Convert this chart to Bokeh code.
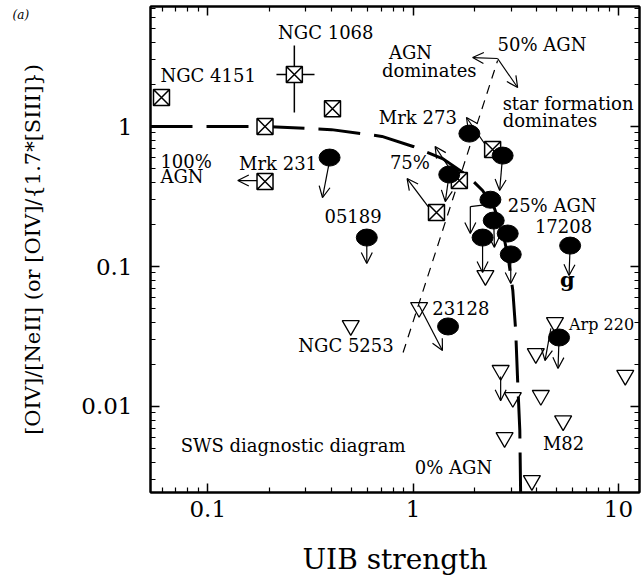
from bokeh.plotting import figure
from bokeh.models import (ColumnDataSource, LogAxis, FixedTicker, CustomJSTickFormatter,
                          Arrow, OpenHead, LabelSet, Label, Range1d)
from bokeh.embed import file_html
from bokeh.resources import INLINE
from bokeh.core.properties import value

# ---- data ----
# AGN-type sources (crossed squares)
sq_x = [0.0595, 0.264, 0.405, 0.19, 0.19, 2.44, 1.68, 1.30]
sq_y = [1.61, 2.35, 1.34, 1.0, 0.405, 0.685, 0.411, 0.243]

# ULIRGs (filled circles)
ci_x = [0.392, 0.595, 1.88, 2.73, 1.50, 2.38, 2.47, 2.18, 2.89, 2.99, 5.82, 1.48, 5.14]
ci_y = [0.60, 0.161, 0.89, 0.62, 0.454, 0.30, 0.213, 0.161, 0.172, 0.122, 0.141, 0.0373, 0.0311]

# starbursts (open triangles)
tr_x = [2.25, 0.497, 1.07, 4.91, 3.96, 10.8, 2.67, 3.06, 4.19, 5.38, 2.79, 3.79]
tr_y = [0.0862, 0.0379, 0.051, 0.0398, 0.0239, 0.0167, 0.0181, 0.0116, 0.0120, 0.0079, 0.0060, 0.00296]

# NGC 1068 error bars
err_x = [0.264]
err_y = [2.35]
err_xlo = [0.216]
err_xhi = [0.331]
err_ylo = [1.26]
err_yhi = [3.79]

# AGN / starburst mixing curve
mix_x = [0.0526, 0.19, 0.40, 0.705, 1.0, 1.39, 1.84, 2.18, 2.49, 2.73, 2.92, 3.06, 3.16, 3.23, 3.31, 3.34]
mix_y = [1.0, 1.0, 0.95, 0.85, 0.72, 0.59, 0.447, 0.349, 0.26, 0.181, 0.110, 0.0674, 0.0349, 0.0153, 0.00674, 0.00243]

# 50% AGN line
half_x = [0.894, 2.58]
half_y = [0.0243, 2.96]

# arrows (upper limits and annotations)
ar_x0 = [0.392, 0.174, 0.595, 2.28, 2.73, 1.553, 1.50, 1.184, 2.58, 2.58, 1.90, 2.18, 2.47, 2.99, 5.82, 1.07, 5.14, 4.69, 2.67]
ar_y0 = [0.571, 0.411, 0.161, 0.72, 0.62, 0.469, 0.46, 0.268, 3.06, 3.06, 0.268, 0.161, 0.213, 0.122, 0.141, 0.0527, 0.0311, 0.0361, 0.0164]
ar_x1 = [0.362, 0.140, 0.595, 1.82, 2.64, 1.28, 1.435, 0.935, 1.95, 3.23, 1.90, 2.18, 2.49, 2.99, 5.75, 1.39, 5.08, 4.39, 2.67]
ar_y1 = [0.311, 0.411, 0.105, 1.16, 0.349, 0.72, 0.291, 0.425, 3.11, 1.90, 0.172, 0.0906, 0.137, 0.0756, 0.0862, 0.0251, 0.0187, 0.0213, 0.0110]

# connector line
con_x0 = [2.28]
con_y0 = [0.277]
con_x1 = [1.90]
con_y1 = [0.268]

# text labels
lab_text = ["NGC 1068", "NGC 4151", "Mrk 231", "100%", "AGN", "Mrk 273", "75%", "05189",
            "25% AGN", "17208", "star formation", "dominates", "AGN", "dominates", "50% AGN",
            "23128", "NGC 5253", "M82", "0% AGN", "SWS diagnostic diagram"]
lab_x = [0.220, 0.0588, 0.142, 0.0588, 0.0588, 0.681, 0.771, 0.370,
         2.89, 3.92, 2.73, 2.73, 0.763, 0.705, 2.58,
         1.24, 0.276, 4.29, 1.02, 0.0738]
lab_y = [4.69, 2.31, 0.544, 0.562, 0.44, 1.16, 0.553, 0.231,
         0.273, 0.196, 1.46, 1.10, 3.38, 2.51, 3.85,
         0.0509, 0.0273, 0.00544, 0.00367, 0.00527]

x_major = [0.1, 1, 10]
y_major = [0.01, 0.1, 1]
x_minor = [m * 10.0 ** e for e in (-2, -1, 0, 1) for m in range(2, 10)]
y_minor = [m * 10.0 ** e for e in (-3, -2, -1, 0) for m in range(2, 10)]

FONT = "DejaVu Serif"

p = figure(width=644, height=583, x_axis_type="log", y_axis_type="log",
           x_range=Range1d(0.0526, 12.67), y_range=Range1d(0.00243, 7.2),
           output_backend="svg", toolbar_location=None,
           min_border_left=150, min_border_right=5, min_border_top=6, min_border_bottom=91)
p.grid.visible = False
p.outline_line_color = "black"
p.outline_line_width = 2
p.background_fill_color = "white"
p.border_fill_color = "white"

xt = FixedTicker(ticks=x_major, minor_ticks=x_minor)
yt = FixedTicker(ticks=y_major, minor_ticks=y_minor)
fmt = CustomJSTickFormatter(code="return String(parseFloat(tick.toPrecision(6)))")

for ax, tk in ((p.xaxis[0], xt), (p.yaxis[0], yt)):
    ax.ticker = tk
    ax.formatter = fmt
    ax.major_tick_in = 9
    ax.major_tick_out = 0
    ax.minor_tick_in = 5
    ax.minor_tick_out = 0
    ax.axis_line_width = 2
    ax.major_tick_line_width = 1.5
    ax.minor_tick_line_width = 1.2
    ax.major_label_text_font = FONT
    ax.major_label_text_font_size = "23px"
    ax.major_label_text_color = "black"
    ax.axis_label_text_font = FONT
    ax.axis_label_text_font_style = "normal"
    ax.axis_label_text_color = "black"

p.xaxis.axis_label = "UIB strength"
p.xaxis.axis_label_text_font_size = "28px"
p.xaxis.major_label_standoff = 8
p.xaxis.axis_label_standoff = 23
p.yaxis.axis_label = "[OIV]/[NeII] (or [OIV]/{1.7*[SIII]})"
p.yaxis.axis_label_text_font_size = "21px"
p.yaxis.major_label_standoff = 18
p.yaxis.axis_label_standoff = 33

blank = CustomJSTickFormatter(code="return ''")
for loc, tk in (("above", xt), ("right", yt)):
    ax = LogAxis(ticker=tk, formatter=blank, major_tick_in=9, major_tick_out=0,
                 minor_tick_in=5, minor_tick_out=0, axis_line_width=2,
                 major_tick_line_width=1.5, minor_tick_line_width=1.2,
                 major_label_standoff=0, major_label_text_font_size="0px")
    p.add_layout(ax, loc)

# arrows (under markers)
arr_src = ColumnDataSource(dict(x0=ar_x0, y0=ar_y0, x1=ar_x1, y1=ar_y1))
p.add_layout(Arrow(end=OpenHead(size=11, line_width=1.2, line_color="black"),
                   x_start="x0", y_start="y0", x_end="x1", y_end="y1",
                   source=arr_src, line_width=1.2, line_color="black", level="underlay"))
p.segment(x0=con_x0, y0=con_y0, x1=con_x1, y1=con_y1, line_color="black", line_width=1.2)

# lines
p.line(mix_x, mix_y, line_width=3, line_dash="42 14", line_color="black")
p.line(half_x, half_y, line_width=1.2, line_dash="9 7", line_color="black")

# error bars
p.segment(x0=err_xlo, y0=err_y, x1=err_xhi, y1=err_y, line_color="black", line_width=1.5)
p.segment(x0=err_x, y0=err_ylo, x1=err_x, y1=err_yhi, line_color="black", line_width=1.5)

# markers
p.scatter(tr_x, tr_y, marker="inverted_triangle", size=17, fill_color=None,
          line_color="black", line_width=1.3)
p.scatter(sq_x, sq_y, marker="square_x", size=16, fill_color="white",
          line_color="black", line_width=1.5)
p.ellipse(x=ci_x, y=ci_y, width=21, height=17, width_units="screen", height_units="screen",
          fill_color="black", line_color="black")

# text
lab_src = ColumnDataSource(dict(x=lab_x, y=lab_y, t=lab_text))
p.add_layout(LabelSet(x="x", y="y", text="t", source=lab_src,
                      text_font=value(FONT), text_font_size=value("18px"),
                      text_color="black", text_align="left", text_baseline="middle"))
p.add_layout(Label(x=5.75, y=0.0385, text="Arp 220", text_font=FONT, text_font_size="16px",
                   text_color="black", text_baseline="middle", text_align="left"))
p.add_layout(Label(x=5.2, y=0.0807, text="g", text_font=FONT, text_font_size="21px",
                   text_color="black", text_font_style="bold",
                   text_baseline="middle", text_align="left"))
p.add_layout(Label(x=0.0112, y=6.31, text="(a)", text_font=FONT, text_font_size="12px",
                   text_color="black", text_font_style="italic",
                   text_baseline="middle", text_align="left"), "left")

open("out.html", "w").write(file_html(p, INLINE))
